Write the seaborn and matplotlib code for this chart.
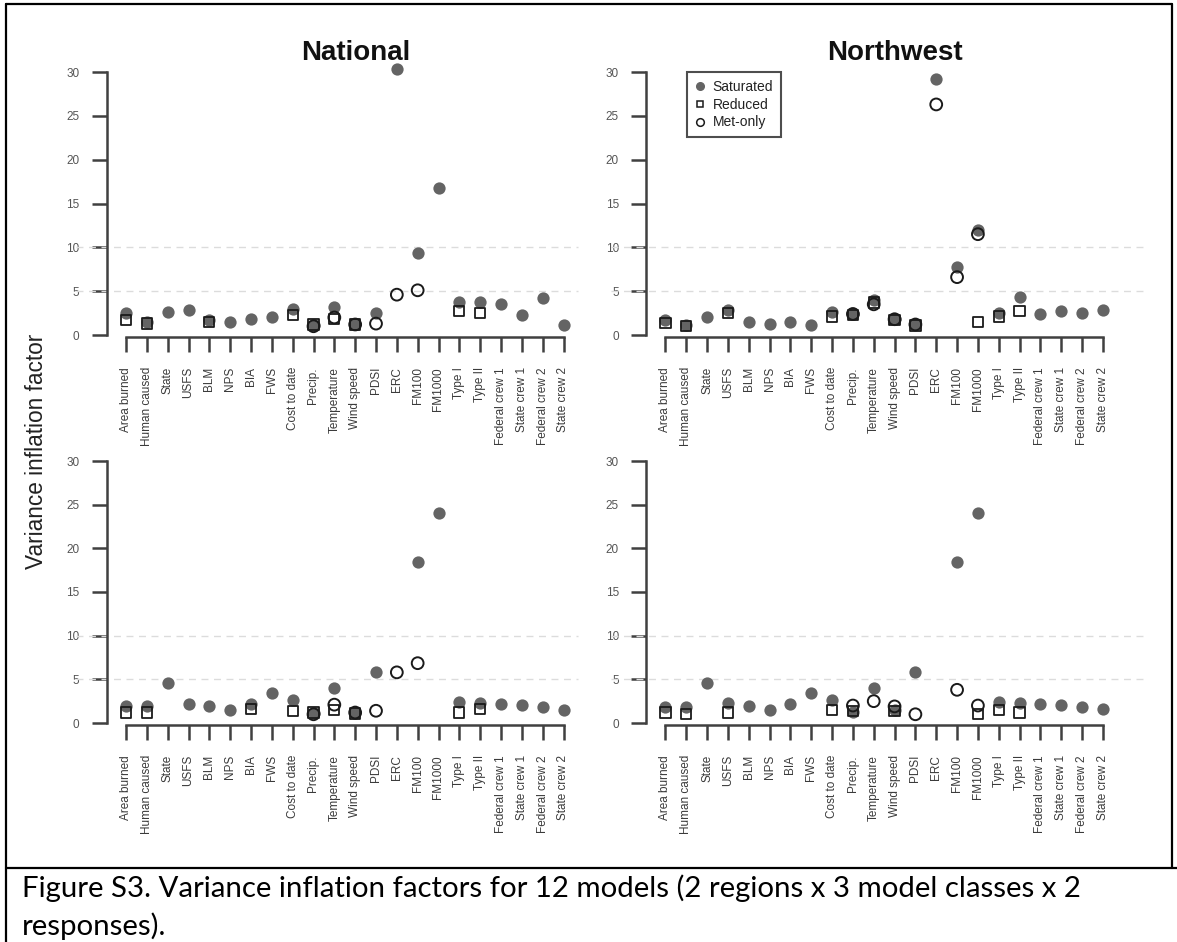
import numpy as np
import pandas as pd
import matplotlib
matplotlib.use("Agg")
import matplotlib.pyplot as plt
import seaborn as sns
from matplotlib.lines import Line2D

nan = np.nan

categories = ["Area burned", "Human caused", "State", "USFS", "BLM", "NPS", "BIA", "FWS",
              "Cost to date", "Precip.", "Temperature", "Wind speed", "PDSI", "ERC", "FM100",
              "FM1000", "Type I", "Type II", "Federal crew 1", "State crew 1",
              "Federal crew 2", "State crew 2"]

# National, top response
nat_top_sat = [2.5, 1.5, 2.6, 2.9, 1.7, 1.5, 1.8, 2.1, 3.0, 1.1, 3.2, 1.3, 2.5, 30.3, 9.3, 16.8,
               3.8, 3.8, 3.5, 2.3, 4.2, 1.1]
nat_top_red = [1.7, 1.3, nan, nan, 1.5, nan, nan, nan, 2.3, 1.2, 1.8, 1.2, nan, nan, nan, nan,
               2.7, 2.5, nan, nan, nan, nan]
nat_top_met = [nan, nan, nan, nan, nan, nan, nan, nan, nan, 1.0, 2.0, 1.2, 1.3, 4.6, 5.1, nan,
               nan, nan, nan, nan, nan, nan]

# Northwest, top response
nw_top_sat = [1.7, 1.1, 2.0, 2.8, 1.45, 1.2, 1.5, 1.1, 2.6, 2.4, 4.0, 1.8, 1.2, 29.2, 7.7, 12.0,
              2.5, 4.3, 2.4, 2.7, 2.5, 2.85]
nw_top_red = [1.4, 1.0, nan, 2.5, nan, nan, nan, nan, 2.1, 2.3, 3.7, 1.7, 1.1, nan, nan, 1.5,
              2.1, 2.7, nan, nan, nan, nan]
nw_top_met = [nan, nan, nan, nan, nan, nan, nan, nan, nan, 2.4, 3.5, 1.8, 1.2, 26.3, 6.6, 11.5,
              nan, nan, nan, nan, nan, nan]

# National, bottom response
nat_bot_sat = [1.9, 1.9, 4.6, 2.2, 2.0, 1.5, 2.2, 3.4, 2.6, 1.1, 4.0, 1.2, 5.8, nan, 18.4, 24.0,
               2.4, 2.3, 2.2, 2.1, 1.8, 1.5]
nat_bot_red = [1.2, 1.2, nan, nan, nan, nan, 1.6, nan, 1.4, 1.2, 1.5, 1.1, nan, nan, nan, nan,
               1.2, 1.6, nan, nan, nan, nan]
nat_bot_met = [nan, nan, nan, nan, nan, nan, nan, nan, nan, 1.0, 2.1, 1.2, 1.4, 5.8, 6.85, nan,
               nan, nan, nan, nan, nan, nan]

# Northwest, bottom response
nw_bot_sat = [1.85, 1.85, 4.6, 2.3, 2.0, 1.5, 2.2, 3.4, 2.6, 1.3, 4.05, 1.5, 5.8, nan, 18.4, 24.0,
              2.4, 2.3, 2.2, 2.1, 1.8, 1.6]
nw_bot_red = [1.2, 1.0, nan, 1.2, nan, nan, nan, nan, 1.5, 1.4, nan, 1.4, nan, nan, nan, 1.0,
              1.5, 1.2, nan, nan, nan, nan]
nw_bot_met = [nan, nan, nan, nan, nan, nan, nan, nan, nan, 2.0, 2.5, 1.9, 1.0, nan, 3.8, 2.0,
              nan, nan, nan, nan, nan, nan]

region_titles = ["National", "Northwest"]
series_names = ["Saturated", "Reduced", "Met-only"]
y_ticks = [0, 5, 10, 15, 20, 25, 30]
y_label = "Variance inflation factor"
caption_lines = ["Figure S3. Variance inflation factors for 12 models (2 regions x 3 model classes x 2",
                 "responses)."]

panels = [
    (0, 0, nat_top_sat, nat_top_red, nat_top_met),
    (0, 1, nw_top_sat, nw_top_red, nw_top_met),
    (1, 0, nat_bot_sat, nat_bot_red, nat_bot_met),
    (1, 1, nw_bot_sat, nw_bot_red, nw_bot_met),
]

sns.set_style("ticks")
plt.rcParams["font.family"] = ["Liberation Sans", "DejaVu Sans"]

W, H = 1177, 942
fig = plt.figure(figsize=(W / 100, H / 100), dpi=100)

GRAY = "#646464"
AXC = "#404040"
TXT = "#3a3a3a"

spacing = 437.5 / 21
col_first = [126.0, 665.4]
row_y = [(335.0, 72.0), (723.0, 461.0)]
XL = (-0.91, 21.6)
YL = (-0.2, 31.0)
grid_ext = [(-2.4, 21.7), (-2.6, 23.0)]


def px_axes(l, r, t, b):
    return fig.add_axes([l / W, 1 - b / H, (r - l) / W, (b - t) / H])


axes = {}
for row, col, sat, red, met in panels:
    first = col_first[col]
    y0, y30 = row_y[row]
    u = (y0 - y30) / 30.0
    ax = px_axes(first + XL[0] * spacing, first + XL[1] * spacing,
                 y30 - (YL[1] - 30) * u, y0 - YL[0] * u)
    axes[(row, col)] = ax
    df = pd.DataFrame({"pos": np.arange(len(categories)), "Saturated": sat,
                       "Reduced": red, "Met-only": met})
    gx0, gx1 = grid_ext[col]
    ax.hlines([5, 10], gx0, gx1, colors="#dcdcdc", linestyles=(0, (5, 4)),
              linewidth=1.0, clip_on=False, zorder=1)
    sns.scatterplot(data=df, x="pos", y="Saturated", ax=ax, color=GRAY, s=78,
                    linewidth=0, marker="o", clip_on=False, zorder=3)
    sns.scatterplot(data=df, x="pos", y="Reduced", ax=ax, marker="s", s=55,
                    facecolor="none", edgecolor="#1a1a1a", linewidth=1.3,
                    clip_on=False, zorder=4)
    sns.scatterplot(data=df, x="pos", y="Met-only", ax=ax, marker="o", s=72,
                    facecolor="none", edgecolor="#1a1a1a", linewidth=1.4,
                    clip_on=False, zorder=5)
    ax.set_xlim(*XL)
    ax.set_ylim(*YL)
    ax.set_xlabel("")
    ax.set_ylabel("")
    ax.set_xticks(np.arange(len(categories)))
    ax.set_xticklabels(categories, rotation=90, fontsize=8.5, color=TXT)
    ax.set_yticks(y_ticks)
    ax.set_yticklabels([str(v) for v in y_ticks], fontsize=8.5, color="#555555")
    ax.tick_params(axis="both", direction="out", length=10.8, width=1.8, color=AXC)
    ax.tick_params(axis="x", pad=11.0)
    ax.tick_params(axis="y", pad=9.0)
    for s in ["top", "right"]:
        ax.spines[s].set_visible(False)
    for s in ["left", "bottom"]:
        ax.spines[s].set_color(AXC)
        ax.spines[s].set_linewidth(1.8)
    ax.spines["left"].set_bounds(0, 30)
    ax.spines["bottom"].set_bounds(0, len(categories) - 1)
    ax.patch.set_alpha(0)

# legend in the top-right panel
handles = [
    Line2D([], [], linestyle="none", marker="o", markersize=5.5, markerfacecolor=GRAY,
           markeredgecolor=GRAY),
    Line2D([], [], linestyle="none", marker="s", markersize=5, markerfacecolor="none",
           markeredgecolor="#1a1a1a", markeredgewidth=1.1),
    Line2D([], [], linestyle="none", marker="o", markersize=5.5, markerfacecolor="none",
           markeredgecolor="#1a1a1a", markeredgewidth=1.1),
]
leg = axes[(0, 1)].legend(handles, series_names, loc="upper left",
                          bbox_to_anchor=(687 / W, 1 - 72 / H), bbox_transform=fig.transFigure,
                          fontsize=10, frameon=True, fancybox=False, borderpad=0.55,
                          labelspacing=0.28, handlelength=0.8, handletextpad=0.5,
                          borderaxespad=0.0)
leg.get_frame().set_edgecolor("#222222")
leg.get_frame().set_linewidth(1.5)
for t in leg.get_texts():
    t.set_color("#222222")

# panel titles
fig.text(356 / W, 1 - 53 / H, region_titles[0], fontsize=20, fontweight="bold",
         ha="center", va="center", color="#111111")
fig.text(895 / W, 1 - 53 / H, region_titles[1], fontsize=20, fontweight="bold",
         ha="center", va="center", color="#111111")

# shared y label
fig.text(37 / W, 1 - 451 / H, y_label, fontsize=16.3, rotation=90, ha="center",
         va="center", color="#222222")

# frame lines (document table look)
def fig_line(x0, y0, x1, y1, lw=1.6):
    fig.add_artist(Line2D([x0 / W, x1 / W], [1 - y0 / H, 1 - y1 / H],
                          transform=fig.transFigure, color="black", linewidth=lw))

fig_line(6, 3.5, 1172, 3.5)
fig_line(6, 3.5, 6, 942)
fig_line(1172, 3.5, 1172, 868)
fig_line(6, 868, 1177, 868)

# caption
cap_fs = 17
cap1 = fig.text(22 / W, 1 - 888 / H, caption_lines[0], fontsize=cap_fs,
                family=["Lato", "DejaVu Sans"], ha="left", va="center", color="black")
cap2 = fig.text(22 / W, 1 - 926 / H, caption_lines[1], fontsize=cap_fs,
                family=["Lato", "DejaVu Sans"], ha="left", va="center", color="black")
fig.canvas.draw()
w = cap1.get_window_extent().width
new_fs = cap_fs * 1058.0 / w
cap1.set_fontsize(new_fs)
cap2.set_fontsize(new_fs)

fig.savefig("out.png", dpi=100)
